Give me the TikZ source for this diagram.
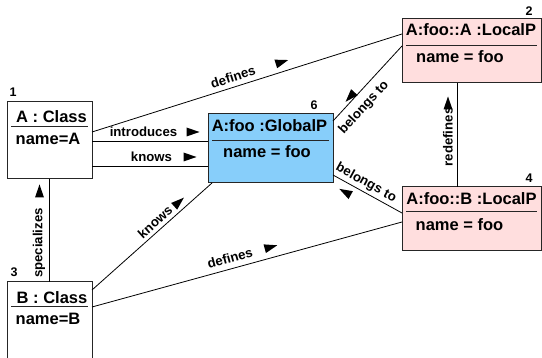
\documentclass[tikz,border=0pt]{standalone}
\usepackage{fontspec}
\setmainfont{Liberation Sans}
\usetikzlibrary{calc}
\definecolor{gblue}{RGB}{135,206,250}
\definecolor{lpink}{RGB}{255,222,222}
\newcommand\dirtri[3]{\fill[shift={(#1,#2)},rotate=#3] (6.5,0) -- (-6.5,4.5) -- (-6.5,-4.5) -- cycle;}
\begin{document}
\begin{tikzpicture}[x=1pt,y=-1pt,
 box/.style={draw=black!85,line width=1pt,anchor=north west,inner sep=0,outer sep=0},
 ttl/.style={font=\bfseries\fontsize{16.5}{18}\selectfont,inner sep=0},
 lbl/.style={font=\bfseries\fontsize{13.2}{15}\selectfont,inner sep=0},
 num/.style={font=\bfseries\fontsize{12.5}{14}\selectfont,inner sep=0,anchor=base},
 conn/.style={line width=0.8pt},
 sepline/.style={line width=1pt,draw=black!85}]
\useasboundingbox (0,0) rectangle (542,358);
% boxes
\node[box,minimum width=85pt,minimum height=77pt] (b1) at (7,102) {};
\node[box,fill=gblue,minimum width=125pt,minimum height=69pt] (b6) at (208,114) {};
\node[box,fill=lpink,minimum width=139pt,minimum height=64pt] (b2) at (402,19) {};
\node[box,fill=lpink,minimum width=139pt,minimum height=64pt] (b4) at (402,187) {};
\node[box,minimum width=85pt,minimum height=77pt] (b3) at (7,282) {};
% separators
\draw[sepline] ($(b1.north west)+(4,25)$) -- ($(b1.north east)+(-4,25)$);
\draw[sepline] ($(b6.north west)+(4,27)$) -- ($(b6.north east)+(-4,27)$);
\draw[sepline] ($(b2.north west)+(4,27)$) -- ($(b2.north east)+(-4,27)$);
\draw[sepline] ($(b4.north west)+(4,25)$) -- ($(b4.north east)+(-4,25)$);
\draw[sepline] ($(b3.north west)+(4,25)$) -- ($(b3.north east)+(-4,25)$);
% texts
\node[ttl,anchor=base] (t1) at (51.5,123) {A : Class};
\node[ttl,anchor=base west] (a1) at (15.5,145) {name=A};
\node[ttl,anchor=base] (t3) at (52,304) {B : Class};
\node[ttl,anchor=base west] (a3) at (15.5,325) {name=B};
\node[ttl,anchor=base] (t6) at (269.5,132) {A:foo :GlobalP};
\node[ttl,anchor=base] (a6) at (267,158) {name = foo};
\node[ttl,anchor=base] (t2) at (471,36) {A:foo::A :LocalP};
\node[ttl,anchor=base] (a2) at (460,63) {name = foo};
\node[ttl,anchor=base] (t4) at (471.5,205) {A:foo::B :LocalP};
\node[ttl,anchor=base] (a4) at (459.5,231) {name = foo};
% numbers
\node[num] (n1) at (13,97) {1};
\node[num] (n3) at (14,277) {3};
\node[num] (n6) at (314,110) {6};
\node[num] (n2) at (529,16) {2};
\node[num] (n4) at (529,183) {4};
% connectors
\coordinate (c1a) at ($(b1.north east)+(0,30)$);
\coordinate (c1b) at ($(b2.north west)+(0,15)$);
\draw[conn] (c1a) -- (c1b);
\coordinate (c2a) at ($(b1.north east)+(0,39)$);
\coordinate (c2b) at ($(b6.north west)+(0,27)$);
\draw[conn] (c2a) -- (c2b);
\coordinate (c3a) at ($(b1.north east)+(0,64)$);
\coordinate (c3b) at ($(b6.north west)+(0,52)$);
\draw[conn] (c3a) -- (c3b);
\coordinate (c4a) at ($(b1.south west)+(42,0)$);
\coordinate (c4b) at ($(b3.north west)+(42,0)$);
\draw[conn] (c4a) -- (c4b);
\coordinate (c5a) at ($(b3.north east)+(0,8)$);
\coordinate (c5b) at ($(b6.south west)+(4,0)$);
\draw[conn] (c5a) -- (c5b);
\coordinate (c6a) at ($(b3.north east)+(0,25)$);
\coordinate (c6b) at ($(b4.north west)+(0,35)$);
\draw[conn] (c6a) -- (c6b);
\coordinate (c7a) at ($(b6.north east)+(0,7)$);
\coordinate (c7b) at ($(b2.north west)+(0,27)$);
\draw[conn] (c7a) -- (c7b);
\coordinate (c8a) at ($(b6.north east)+(0,61)$);
\coordinate (c8b) at ($(b4.north west)+(0,26)$);
\draw[conn] (c8a) -- (c8b);
\coordinate (c9a) at ($(b4.north west)+(55,0)$);
\coordinate (c9b) at ($(b2.south west)+(55,0)$);
\draw[conn] (c9a) -- (c9b);
% labels
\node[lbl,rotate=17.5] (l1) at (233,77) {defines};
\dirtri{282}{62}{17.5}
\node[lbl] (l2) at (143.5,132) {introduces};
\dirtri{193}{132}{0}
\node[lbl] (l3) at (151.5,157) {knows};
\dirtri{190}{157}{0}
\node[lbl,rotate=90] (l4) at (39,243) {specializes};
\dirtri{39.5}{191}{90}
\node[lbl,rotate=41.7] (l5) at (155,222) {knows};
\dirtri{179}{202}{41.7}
\node[lbl,rotate=15.3] (l6) at (230,258) {defines};
\dirtri{271}{247}{15.3}
\node[lbl,rotate=47.4] (l7) at (364,108) {belongs to};
\dirtri{350}{97}{227.4}
\node[lbl,rotate=-28.8] (l8) at (366,183) {belongs to};
\dirtri{345}{192}{151.2}
\node[lbl,rotate=90] (l9) at (448,137) {redefines};
\dirtri{448}{103}{90}
\end{tikzpicture}
\end{document}
